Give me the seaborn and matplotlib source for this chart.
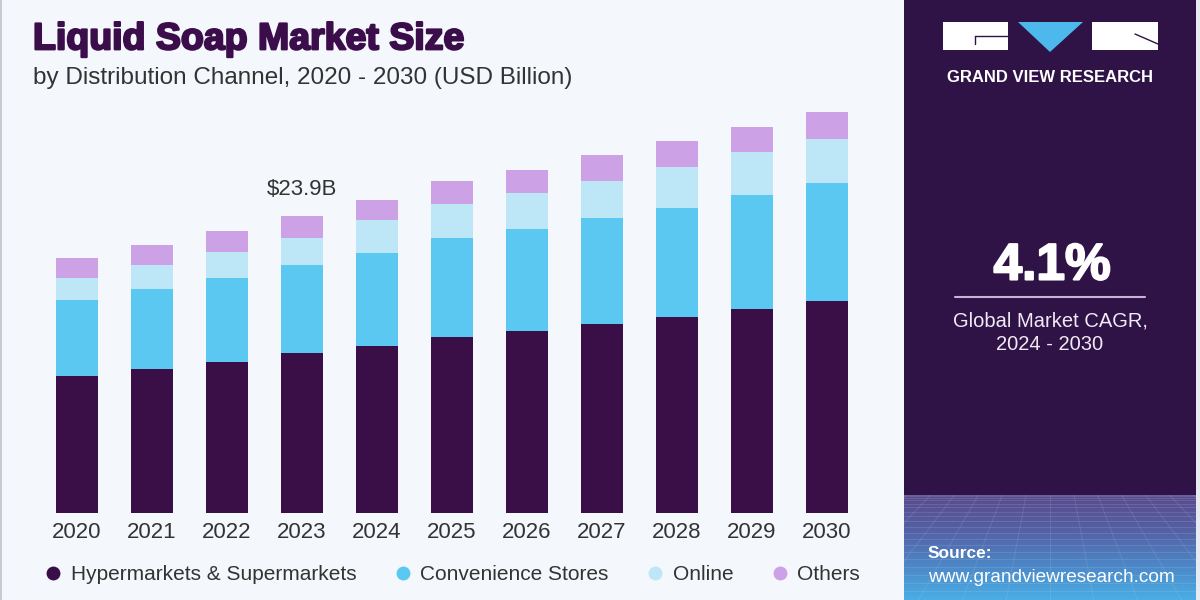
import numpy as np
import pandas as pd
import matplotlib
matplotlib.use("Agg")
import matplotlib.pyplot as plt
import matplotlib.patheffects as pe
import seaborn as sns
from matplotlib.colors import LinearSegmentedColormap
from matplotlib.lines import Line2D
from matplotlib.patches import Rectangle, Polygon

# Données (USD milliards)
annees = ['2020', '2021', '2022', '2023', '2024', '2025', '2026', '2027', '2028', '2029', '2030']
hyper = [11.00, 11.58, 12.15, 12.87, 13.45, 14.16, 14.62, 15.18, 15.74, 16.41, 17.03]
convenience = [6.11, 6.39, 6.76, 7.06, 7.48, 7.94, 8.21, 8.50, 8.79, 9.17, 9.52]
online = [1.79, 1.98, 2.07, 2.20, 2.64, 2.74, 2.87, 3.02, 3.30, 3.44, 3.49]
autres = [1.56, 1.58, 1.71, 1.77, 1.58, 1.85, 1.85, 2.04, 2.04, 2.04, 2.20]
series = ['Hypermarkets & Supermarkets', 'Convenience Stores', 'Online', 'Others']
couleurs = ['#3a0f48', '#5bc8f2', '#bde6f7', '#cda1e6']
annotation_annee = '2023'
annotation_texte = '$23.9B'
cagr = '4.1%'

sns.set_style('white')
plt.rcParams['font.family'] = ['Liberation Sans', 'DejaVu Sans']

fond = '#f4f7fb'
violet = '#2f1246'

df = pd.DataFrame({'annee': annees, 'hyper': hyper, 'conv': convenience,
                   'online': online, 'autres': autres})
# cumuls pour empiler les barres
df['c1'] = df['hyper']
df['c2'] = df['c1'] + df['conv']
df['c3'] = df['c2'] + df['online']
df['c4'] = df['c3'] + df['autres']

fig = plt.figure(figsize=(12, 6), dpi=100, facecolor=fond)

# bordures et panneau de droite
fig.patches.append(Rectangle((904 / 1200, 0), 292 / 1200, 1, transform=fig.transFigure,
                             facecolor=violet, edgecolor='none', zorder=-2))
fig.patches.append(Rectangle((1196 / 1200, 0), 4 / 1200, 1, transform=fig.transFigure,
                             facecolor='#e6ebf2', edgecolor='none', zorder=-2))
fig.patches.append(Rectangle((0, 0), 2 / 1200, 1, transform=fig.transFigure,
                             facecolor='#c8ccd2', edgecolor='none', zorder=-2))

ax = fig.add_axes([39.5 / 1200, 87.3 / 600, 825 / 1200, 412.7 / 600])
ax.set_facecolor(fond)
for col, c in zip(['c4', 'c3', 'c2', 'c1'], couleurs[::-1]):
    sns.barplot(data=df, x='annee', y=col, color=c, width=0.57, saturation=1,
                edgecolor='none', linewidth=0, ax=ax)
ax.set_ylim(0, 33.2)
ax.set_xlim(-0.5, 10.5)
ax.set_xlabel('')
ax.set_ylabel('')
ax.set_yticks([])
sns.despine(ax=ax, left=True, bottom=True)
ax.tick_params(axis='x', length=0, pad=7, labelsize=16, labelcolor='#333333')

i = annees.index(annotation_annee)
ax.annotate(annotation_texte, xy=(i, df['c4'][i]), xytext=(0, 19), textcoords='offset points',
            ha='center', va='center', fontsize=16, color='#333333')

# titres
fig.text(33 / 1200, 1 - 49.3 / 600, 'Liquid Soap Market Size', fontsize=27, weight='bold',
         color='#3b0e4b', va='baseline',
         path_effects=[pe.withStroke(linewidth=1.6, foreground='#3b0e4b')])
fig.text(33 / 1200, 1 - 84 / 600, 'by Distribution Channel, 2020 - 2030 (USD Billion)',
         fontsize=17.5, color='#333333', va='baseline')

# légende
poignees = [Line2D([0], [0], marker='o', linestyle='none', markersize=10,
                   markerfacecolor=c, markeredgecolor='none') for c in couleurs]
fig.legend(poignees, series, loc='center left', bbox_to_anchor=(26 / 1200, 1 - 575 / 600),
           ncol=4, frameon=False, fontsize=15, handlelength=0.8, handletextpad=0.45,
           columnspacing=1.82, labelcolor='#333333')

# logo
fig.patches.append(Rectangle((943 / 1200, 1 - 50 / 600), 65 / 1200, 28 / 600,
                             transform=fig.transFigure, facecolor='white', edgecolor='none'))
fig.patches.append(Rectangle((1092 / 1200, 1 - 50 / 600), 66 / 1200, 28 / 600,
                             transform=fig.transFigure, facecolor='white', edgecolor='none'))
fig.patches.append(Polygon([(1018 / 1200, 1 - 22 / 600), (1083 / 1200, 1 - 22 / 600),
                            (1050 / 1200, 1 - 52 / 600)], closed=True,
                           transform=fig.transFigure, facecolor='#4db8ec', edgecolor='none'))
fig.lines.append(Line2D([975 / 1200, 1008 / 1200], [1 - 36 / 600, 1 - 36 / 600],
                        transform=fig.transFigure, color=violet, lw=1))
fig.lines.append(Line2D([975 / 1200, 975 / 1200], [1 - 36 / 600, 1 - 44 / 600],
                        transform=fig.transFigure, color=violet, lw=1))
fig.lines.append(Line2D([1135 / 1200, 1158 / 1200], [1 - 34 / 600, 1 - 44 / 600],
                        transform=fig.transFigure, color=violet, lw=1))
fig.text(1050 / 1200, 1 - 77 / 600, 'GRAND VIEW RESEARCH', ha='center', va='center',
         fontsize=12, weight='bold', color='white')

# CAGR
fig.text(1052 / 1200, 1 - 266 / 600, cagr, ha='center', va='center', fontsize=37,
         weight='bold', color='white',
         path_effects=[pe.withStroke(linewidth=1.5, foreground='white')])
fig.lines.append(Line2D([955 / 1200, 1145 / 1200], [1 - 297 / 600, 1 - 297 / 600],
                        transform=fig.transFigure, color='#c9b3d9', lw=1.5))
fig.text(1050 / 1200, 1 - 321 / 600, 'Global Market CAGR,', ha='center', va='center',
         fontsize=14.5, color='#f0eaf4')
fig.text(1050 / 1200, 1 - 345 / 600, '2024 - 2030', ha='center', va='center',
         fontsize=14.5, color='#f0eaf4')

# texture du bas du panneau
axg = fig.add_axes([904 / 1200, 0, 292 / 1200, 105 / 600])
cmap = LinearSegmentedColormap.from_list('g', ['#5a4a8c', '#5560a4', '#4d86c6', '#4aaee4'])
grad = np.linspace(0, 1, 200).reshape(-1, 1)
axg.imshow(grad, aspect='auto', cmap=cmap, extent=(0, 1, 0, 1), origin='upper')
for t in np.linspace(0, 1, 20):
    yy = 1 - t ** 1.6
    axg.plot([0, 1], [yy, yy], color='#b8d8f5', alpha=0.16, lw=0.7)
for xx in np.linspace(-2.5, 3.5, 41):
    axg.plot([0.5, xx], [2.2, 0], color='#b8d8f5', alpha=0.15, lw=0.7)
axg.set_xlim(0, 1)
axg.set_ylim(0, 1)
axg.axis('off')

fig.text(928 / 1200, 1 - 553 / 600, 'Source:', ha='left', va='center', fontsize=12.5,
         weight='bold', color='white')
fig.text(928 / 1200, 1 - 577 / 600, 'www.grandviewresearch.com', ha='left', va='center',
         fontsize=13.7, color='white')

fig.savefig('out.png', dpi=100, facecolor=fond)
